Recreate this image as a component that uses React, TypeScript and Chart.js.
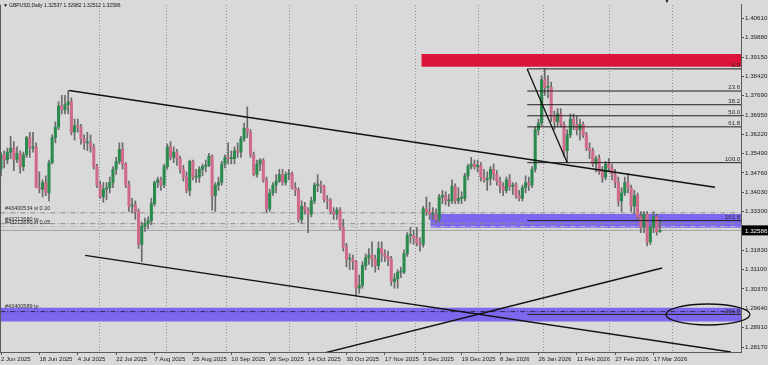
import React, { useEffect, useRef } from 'react';
import { Chart, registerables } from 'chart.js';

Chart.register(...registerables);

const titleText = 'GBPUSD,Daily 1.32537 1.32982 1.32512 1.32586';
const lastPriceText = '1.32586';
const lastPrice = 1.32586;

const dateLabels = ['2 Jun 2025', '18 Jun 2025', '4 Jul 2025', '22 Jul 2025', '7 Aug 2025', '25 Aug 2025', '10 Sep 2025', '26 Sep 2025', '14 Oct 2025', '30 Oct 2025', '17 Nov 2025', '3 Dec 2025', '19 Dec 2025', '8 Jan 2026', '26 Jan 2026', '11 Feb 2026', '27 Feb 2026', '17 Mar 2026'];
const dateLabelIndex = [0, 12, 24, 36, 48, 60, 72, 84, 96, 108, 120, 132, 144, 156, 168, 180, 192, 204];
const gridIndex = [21.5, 44.5, 65.5, 87.5, 110.5, 131, 153, 175.5, 198.5, 220.5];
const priceTicks = [1.4061, 1.3988, 1.3915, 1.3842, 1.3769, 1.3695, 1.3622, 1.3549, 1.3476, 1.3403, 1.333, 1.3183, 1.311, 1.3037, 1.2964, 1.2891, 1.2817];

const opens = [
  1.3490, 1.3545, 1.3525, 1.3555, 1.3570, 1.3525, 1.3550, 1.3500, 1.3545, 1.3610,
  1.3570, 1.3575, 1.3420, 1.3415, 1.3440, 1.3400, 1.3515, 1.3610, 1.3650, 1.3730,
  1.3715, 1.3735, 1.3745, 1.3630, 1.3655, 1.3650, 1.3605, 1.3590, 1.3590, 1.3575,
  1.3500, 1.3430, 1.3385, 1.3415, 1.3420, 1.3440, 1.3490, 1.3520, 1.3565, 1.3510,
  1.3430, 1.3350, 1.3355, 1.3330, 1.3205, 1.3275, 1.3285, 1.3295, 1.3360, 1.3440,
  1.3450, 1.3430, 1.3500, 1.3575, 1.3535, 1.3555, 1.3530, 1.3490, 1.3460, 1.3410,
  1.3520, 1.3460, 1.3460, 1.3490, 1.3500, 1.3505, 1.3540, 1.3390, 1.3430, 1.3440,
  1.3510, 1.3535, 1.3530, 1.3530, 1.3560, 1.3555, 1.3605, 1.3645, 1.3630, 1.3545,
  1.3470, 1.3510, 1.3525, 1.3450, 1.3340, 1.3400, 1.3430, 1.3445, 1.3470, 1.3440,
  1.3470, 1.3475, 1.3420, 1.3410, 1.3300, 1.3350, 1.3335, 1.3320, 1.3370, 1.3430,
  1.3430, 1.3425, 1.3375, 1.3370, 1.3330, 1.3320, 1.3335, 1.3270, 1.3195, 1.3150,
  1.3150, 1.3140, 1.3040, 1.3050, 1.3125, 1.3155, 1.3165, 1.3150, 1.3125, 1.3190,
  1.3170, 1.3160, 1.3150, 1.3065, 1.3075, 1.3100, 1.3100, 1.3170, 1.3240, 1.3240,
  1.3230, 1.3210, 1.3205, 1.3340, 1.3330, 1.3320, 1.3320, 1.3300, 1.3385, 1.3390,
  1.3370, 1.3370, 1.3425, 1.3370, 1.3380, 1.3380, 1.3465, 1.3500, 1.3510, 1.3500,
  1.3505, 1.3460, 1.3450, 1.3455, 1.3490, 1.3470, 1.3445, 1.3425, 1.3410, 1.3450,
  1.3425, 1.3430, 1.3390, 1.3380, 1.3420, 1.3440, 1.3430, 1.3490, 1.3640, 1.3665,
  1.3830, 1.3800, 1.3800, 1.3690, 1.3670, 1.3700, 1.3660, 1.3560, 1.3620, 1.3680,
  1.3660, 1.3640, 1.3660, 1.3620, 1.3570, 1.3560, 1.3510, 1.3530, 1.3480, 1.3460,
  1.3510, 1.3495, 1.3470, 1.3440, 1.3370, 1.3400, 1.3440, 1.3420, 1.3350, 1.3390,
  1.3310, 1.3270, 1.3320, 1.3215, 1.3270, 1.3310, 1.32537,
];
const highs = [
  1.3555, 1.3560, 1.3570, 1.3615, 1.3595, 1.3575, 1.3560, 1.3555, 1.3615, 1.3630,
  1.3630, 1.3590, 1.3480, 1.3450, 1.3465, 1.3525, 1.3620, 1.3670, 1.3745, 1.3770,
  1.3770, 1.3788, 1.3760, 1.3680, 1.3680, 1.3660, 1.3620, 1.3630, 1.3620, 1.3585,
  1.3510, 1.3445, 1.3440, 1.3440, 1.3460, 1.3500, 1.3535, 1.3590, 1.3590, 1.3515,
  1.3445, 1.3380, 1.3370, 1.3340, 1.3290, 1.3305, 1.3310, 1.3380, 1.3445, 1.3460,
  1.3460, 1.3510, 1.3585, 1.3595, 1.3575, 1.3565, 1.3540, 1.3505, 1.3480, 1.3525,
  1.3525, 1.3490, 1.3500, 1.3510, 1.3525, 1.3550, 1.3545, 1.3440, 1.3460, 1.3520,
  1.3545, 1.3590, 1.3560, 1.3575, 1.3590, 1.3615, 1.3665, 1.3726, 1.3640, 1.3555,
  1.3525, 1.3530, 1.3530, 1.3460, 1.3415, 1.3440, 1.3470, 1.3490, 1.3490, 1.3480,
  1.3490, 1.3480, 1.3440, 1.3420, 1.3370, 1.3365, 1.3345, 1.3385, 1.3440, 1.3470,
  1.3445, 1.3430, 1.3390, 1.3380, 1.3345, 1.3345, 1.3345, 1.3300, 1.3210, 1.3170,
  1.3165, 1.3145, 1.3090, 1.3140, 1.3170, 1.3190, 1.3215, 1.3165, 1.3215, 1.3215,
  1.3185, 1.3180, 1.3160, 1.3095, 1.3110, 1.3120, 1.3185, 1.3250, 1.3270, 1.3260,
  1.3270, 1.3230, 1.3350, 1.3385, 1.3365, 1.3345, 1.3340, 1.3395, 1.3410, 1.3405,
  1.3395, 1.3450, 1.3435, 1.3420, 1.3405, 1.3475, 1.3510, 1.3535, 1.3525, 1.3525,
  1.3515, 1.3490, 1.3480, 1.3500, 1.3510, 1.3485, 1.3460, 1.3440, 1.3460, 1.3470,
  1.3440, 1.3440, 1.3410, 1.3430, 1.3465, 1.3460, 1.3500, 1.3650, 1.3680, 1.3845,
  1.3870, 1.3845, 1.3820, 1.3710, 1.3720, 1.3720, 1.3670, 1.3640, 1.3700, 1.3700,
  1.3690, 1.3680, 1.3670, 1.3630, 1.3590, 1.3570, 1.3540, 1.3545, 1.3500, 1.3520,
  1.3530, 1.3510, 1.3490, 1.3460, 1.3420, 1.3460, 1.3475, 1.3430, 1.3410, 1.3400,
  1.3330, 1.3330, 1.3330, 1.3280, 1.3330, 1.3320, 1.32982,
];
const lows = [
  1.3465, 1.3495, 1.3510, 1.3530, 1.3485, 1.3515, 1.3475, 1.3485, 1.3535, 1.3535,
  1.3555, 1.3440, 1.3400, 1.3385, 1.3390, 1.3370, 1.3510, 1.3590, 1.3640, 1.3700,
  1.3700, 1.3700, 1.3620, 1.3600, 1.3630, 1.3585, 1.3565, 1.3560, 1.3555, 1.3490,
  1.3420, 1.3380, 1.3365, 1.3375, 1.3400, 1.3420, 1.3470, 1.3510, 1.3490, 1.3420,
  1.3330, 1.3325, 1.3300, 1.3190, 1.3140, 1.3255, 1.3265, 1.3280, 1.3350, 1.3420,
  1.3410, 1.3420, 1.3490, 1.3525, 1.3515, 1.3505, 1.3475, 1.3445, 1.3400, 1.3390,
  1.3450, 1.3440, 1.3440, 1.3465, 1.3480, 1.3500, 1.3335, 1.3330, 1.3410, 1.3430,
  1.3495, 1.3510, 1.3510, 1.3510, 1.3535, 1.3535, 1.3595, 1.3610, 1.3535, 1.3465,
  1.3460, 1.3485, 1.3440, 1.3325, 1.3330, 1.3390, 1.3400, 1.3440, 1.3430, 1.3430,
  1.3450, 1.3415, 1.3390, 1.3290, 1.3285, 1.3320, 1.3250, 1.3310, 1.3360, 1.3405,
  1.3400, 1.3365, 1.3340, 1.3320, 1.3300, 1.3300, 1.3260, 1.3180, 1.3120, 1.3110,
  1.3110, 1.3010, 1.3020, 1.3040, 1.3110, 1.3130, 1.3120, 1.3100, 1.3110, 1.3140,
  1.3140, 1.3125, 1.3050, 1.3040, 1.3040, 1.3080, 1.3095, 1.3160, 1.3210, 1.3205,
  1.3200, 1.3180, 1.3195, 1.3315, 1.3300, 1.3300, 1.3290, 1.3290, 1.3360, 1.3355,
  1.3350, 1.3360, 1.3360, 1.3360, 1.3360, 1.3370, 1.3450, 1.3490, 1.3490, 1.3480,
  1.3445, 1.3440, 1.3410, 1.3430, 1.3450, 1.3430, 1.3400, 1.3390, 1.3400, 1.3410,
  1.3395, 1.3380, 1.3370, 1.3370, 1.3400, 1.3410, 1.3420, 1.3480, 1.3620, 1.3655,
  1.3770, 1.3760, 1.3670, 1.3640, 1.3650, 1.3650, 1.3540, 1.3515, 1.3610, 1.3640,
  1.3620, 1.3600, 1.3610, 1.3560, 1.3530, 1.3500, 1.3480, 1.3470, 1.3440, 1.3450,
  1.3480, 1.3450, 1.3420, 1.3350, 1.3330, 1.3390, 1.3400, 1.3330, 1.3320, 1.3300,
  1.3250, 1.3250, 1.3200, 1.3205, 1.3250, 1.3240, 1.32512,
];
const closes = [
  1.3545, 1.3525, 1.3555, 1.3570, 1.3525, 1.3550, 1.3500, 1.3545, 1.3610, 1.3570,
  1.3575, 1.3420, 1.3415, 1.3440, 1.3400, 1.3515, 1.3610, 1.3650, 1.3730, 1.3715,
  1.3735, 1.3745, 1.3630, 1.3655, 1.3650, 1.3605, 1.3590, 1.3590, 1.3575, 1.3500,
  1.3430, 1.3385, 1.3415, 1.3420, 1.3440, 1.3490, 1.3520, 1.3565, 1.3510, 1.3430,
  1.3350, 1.3355, 1.3330, 1.3205, 1.3275, 1.3285, 1.3295, 1.3360, 1.3440, 1.3450,
  1.3430, 1.3500, 1.3575, 1.3535, 1.3555, 1.3530, 1.3490, 1.3460, 1.3410, 1.3520,
  1.3460, 1.3460, 1.3490, 1.3500, 1.3505, 1.3540, 1.3390, 1.3430, 1.3440, 1.3510,
  1.3535, 1.3530, 1.3530, 1.3560, 1.3555, 1.3605, 1.3645, 1.3630, 1.3545, 1.3470,
  1.3510, 1.3525, 1.3450, 1.3340, 1.3400, 1.3430, 1.3445, 1.3470, 1.3440, 1.3470,
  1.3475, 1.3420, 1.3410, 1.3300, 1.3350, 1.3335, 1.3320, 1.3370, 1.3430, 1.3430,
  1.3425, 1.3375, 1.3370, 1.3330, 1.3320, 1.3335, 1.3270, 1.3195, 1.3150, 1.3150,
  1.3140, 1.3040, 1.3050, 1.3125, 1.3155, 1.3165, 1.3150, 1.3125, 1.3190, 1.3170,
  1.3160, 1.3150, 1.3065, 1.3075, 1.3100, 1.3100, 1.3170, 1.3240, 1.3240, 1.3230,
  1.3210, 1.3205, 1.3340, 1.3330, 1.3320, 1.3320, 1.3300, 1.3385, 1.3390, 1.3370,
  1.3370, 1.3425, 1.3370, 1.3380, 1.3380, 1.3465, 1.3500, 1.3510, 1.3500, 1.3505,
  1.3460, 1.3450, 1.3455, 1.3490, 1.3470, 1.3445, 1.3425, 1.3410, 1.3450, 1.3425,
  1.3430, 1.3390, 1.3380, 1.3420, 1.3440, 1.3430, 1.3490, 1.3640, 1.3665, 1.3830,
  1.3800, 1.3800, 1.3690, 1.3670, 1.3700, 1.3660, 1.3560, 1.3620, 1.3680, 1.3660,
  1.3640, 1.3660, 1.3620, 1.3570, 1.3560, 1.3510, 1.3530, 1.3480, 1.3460, 1.3510,
  1.3495, 1.3470, 1.3440, 1.3370, 1.3400, 1.3440, 1.3420, 1.3350, 1.3390, 1.3310,
  1.3270, 1.3320, 1.3215, 1.3270, 1.3310, 1.3254, 1.32586,
];

// drawn objects, in (bar index, price)
const upperTrend = [{ x: 21.3, y: 1.3788 }, { x: 223.2, y: 1.3422 }];
const lowerTrend = [{ x: 26.3, y: 1.3164 }, { x: 228.2, y: 1.2798 }];
const risingTrend = [{ x: 101.3, y: 1.2795 }, { x: 206.7, y: 1.3116 }];
const fibAnchors = [{ x: 164.5, y: 1.387 }, { x: 177, y: 1.3515 }];
const fibRatios = [0, 23.6, 38.2, 50.0, 61.8, 100.0, 161.8, 261.8];
const redZone = { from: 131.4, top: 1.3926, bottom: 1.3878 };
const blueZoneUpper = { from: 134.2, top: 1.3321, bottom: 1.3269 };
const blueZoneLower = { from: -1, top: 1.2966, bottom: 1.2914 };
const orderLines = [
  { price: 1.3325, color: '#8c8c8c', text: '#43400534 sl 0.10', dy: -2 },
  { price: 1.3284, color: '#8c8c8c', text: '#43212680 tp', dy: -1 },
  { price: 1.3273, color: '#b8b8c8', text: '#43212680 sl 0.05', dy: -1 },
  { price: 1.2951, color: '#2a2a55', text: '#43400589 tp', dy: -2 },
];
const ellipseCenter = { x: 221, y: 1.294 };

const X_MIN = -0.219;
const X_MAX = 231.34;
const Y_MAX = 1.4113;
const Y_MIN = 1.27981;
const BG = '#d9d9d9';
const FONT = '"Liberation Sans", Arial, sans-serif';

export default function App() {
  const ref = useRef<HTMLCanvasElement | null>(null);

  useEffect(() => {
    document.body.style.margin = '0';
    const canvas = ref.current;
    if (!canvas) return;
    const idx = closes.map((_, i) => i);
    const bodyColors = idx.map((i) => (closes[i] >= opens[i] ? '#2b8a4e' : '#cf6a8a'));
    const fibLevels = fibRatios.map((r) => fibAnchors[0].y - (r / 100) * (fibAnchors[0].y - fibAnchors[1].y));

    const seg = (data: any[], color: string, width: number, dash: number[] = [], order = 0) => ({
      type: 'line' as const,
      data,
      borderColor: color,
      borderWidth: width,
      borderDash: dash,
      pointRadius: 0,
      fill: false,
      order,
      tension: 0,
    });
    const box = (z: any, color: string) => ({
      type: 'line' as const,
      data: [{ x: z.from, y: z.top }, { x: X_MAX + 1, y: z.top }],
      borderColor: color,
      borderWidth: 0,
      backgroundColor: color,
      pointRadius: 0,
      fill: { value: z.bottom },
      order: 20,
    });

    const datasets: any[] = [
      box(redZone, '#dc143c'),
      box(blueZoneUpper, '#7b68ee'),
      box(blueZoneLower, '#7b68ee'),
      seg([{ x: X_MIN, y: lastPrice }, { x: X_MAX + 1, y: lastPrice }], '#a2a2a2', 1, [], 15),
      ...orderLines.map((l) => seg([{ x: X_MIN, y: l.price }, { x: X_MAX + 1, y: l.price }], l.color, 1, [5, 2, 1, 2], 14)),
      {
        type: 'bar',
        data: idx.map((i) => ({ x: i, y: [lows[i], highs[i]] })),
        backgroundColor: '#6a6a6a',
        barThickness: 1,
        grouped: false,
        order: 6,
      },
      {
        type: 'bar',
        data: idx.map((i) => ({ x: i, y: [opens[i], closes[i]] })),
        backgroundColor: bodyColors,
        barThickness: 2.4,
        grouped: false,
        minBarLength: 1,
        order: 5,
      },
      ...fibLevels.map((p) => seg([{ x: fibAnchors[0].x, y: p }, { x: X_MAX + 1, y: p }], '#202020', 1, [], 1)),
      seg(fibAnchors, '#111', 1.3),
      seg(upperTrend, '#111', 1.4),
      seg(lowerTrend, '#111', 1.4),
      seg(risingTrend, '#111', 1.4),
    ];

    const overlay = {
      id: 'overlay',
      beforeDraw(chart: any) {
        const c = chart.ctx;
        c.save();
        c.fillStyle = BG;
        c.fillRect(0, 0, chart.width, chart.height);
        c.restore();
      },
      afterDraw(chart: any) {
        const c = chart.ctx;
        const xs = chart.scales.x;
        const ys = chart.scales.y;
        const area = chart.chartArea;
        c.save();
        // frame
        c.strokeStyle = '#5a5a5a';
        c.lineWidth = 1;
        c.beginPath();
        c.moveTo(0.5, area.top);
        c.lineTo(0.5, area.bottom + 0.5);
        c.stroke();
        // title
        c.fillStyle = '#111';
        c.font = `5px ${FONT}`;
        c.textBaseline = 'middle';
        c.textAlign = 'left';
        c.fillText('\u25BC', 3, 6);
        c.fillText(titleText, 9, 6);
        // fib labels
        c.font = `6px ${FONT}`;
        c.textAlign = 'right';
        c.textBaseline = 'bottom';
        c.fillStyle = '#2a2a2a';
        fibRatios.forEach((r) => {
          const p = fibAnchors[0].y - (r / 100) * (fibAnchors[0].y - fibAnchors[1].y);
          c.fillText(r.toFixed(1), area.right - 1, ys.getPixelForValue(p) - 0.5);
        });
        // order labels
        c.textAlign = 'left';
        c.font = `5.5px ${FONT}`;
        c.fillStyle = '#2a2a2a';
        orderLines.forEach((l) => {
          c.fillText(l.text, 5, ys.getPixelForValue(l.price) + l.dy);
        });
        // ellipse
        c.strokeStyle = '#111';
        c.lineWidth = 1.3;
        c.beginPath();
        c.ellipse(xs.getPixelForValue(ellipseCenter.x), ys.getPixelForValue(ellipseCenter.y), 42, 10.5, 0, 0, Math.PI * 2);
        c.stroke();
        // last price tag
        const py = ys.getPixelForValue(lastPrice);
        c.fillStyle = '#000';
        c.fillRect(area.right + 1, py - 5, 27, 10);
        c.fillStyle = '#fff';
        c.font = `6.2px ${FONT}`;
        c.textBaseline = 'middle';
        c.fillText(lastPriceText, area.right + 4, py + 0.5);
        // top marker
        c.fillStyle = '#000';
        c.font = `5px ${FONT}`;
        c.textAlign = 'center';
        c.fillText('\u25BC', 667, 2);
        c.restore();
      },
    };

    const chart = new Chart(canvas, {
      type: 'bar',
      data: { datasets },
      plugins: [overlay],
      options: {
        animation: false,
        responsive: false,
        devicePixelRatio: 1,
        layout: { padding: 0 },
        plugins: { legend: { display: false }, tooltip: { enabled: false } },
        scales: {
          x: {
            type: 'linear',
            min: X_MIN,
            max: X_MAX,
            offset: false,
            afterBuildTicks: (s: any) => {
              s.ticks = dateLabelIndex.map((v) => ({ value: v }));
            },
            afterFit: (s: any) => {
              s.height = 13;
            },
            ticks: {
              autoSkip: false,
              maxRotation: 0,
              minRotation: 0,
              align: 'start',
              padding: 1,
              color: '#222',
              font: { size: 6, family: FONT },
              callback: (v: any) => {
                const k = dateLabelIndex.indexOf(Number(v));
                return k >= 0 ? dateLabels[k] : '';
              },
            },
            grid: { drawOnChartArea: false, drawTicks: true, tickLength: 3, tickColor: '#555', offset: false },
            border: { color: '#5a5a5a' },
          },
          x2: {
            type: 'linear',
            position: 'top',
            min: X_MIN,
            max: X_MAX,
            afterBuildTicks: (s: any) => {
              s.ticks = gridIndex.map((v) => ({ value: v }));
            },
            afterFit: (s: any) => {
              s.height = 0;
            },
            ticks: { display: false },
            grid: { drawTicks: false, color: '#8f8f8f', lineWidth: 1, offset: false },
            border: { display: false, dash: [1, 2] },
          },
          y: {
            type: 'linear',
            position: 'right',
            min: Y_MIN,
            max: Y_MAX,
            afterBuildTicks: (s: any) => {
              s.ticks = priceTicks.map((v) => ({ value: v }));
            },
            afterFit: (s: any) => {
              s.width = 27;
            },
            ticks: {
              padding: 1,
              color: '#222',
              font: { size: 6.2, family: FONT },
              callback: (v: any) => Number(v).toFixed(5),
            },
            grid: { drawOnChartArea: false, tickLength: 3, tickColor: '#555' },
            border: { color: '#5a5a5a' },
          },
        },
      } as any,
    });
    return () => chart.destroy();
  }, []);

  return (
    <div style={{ width: 768, height: 365 }}>
      <canvas ref={ref} width={768} height={365} style={{ width: 768, height: 365, display: 'block' }} />
    </div>
  );
}
